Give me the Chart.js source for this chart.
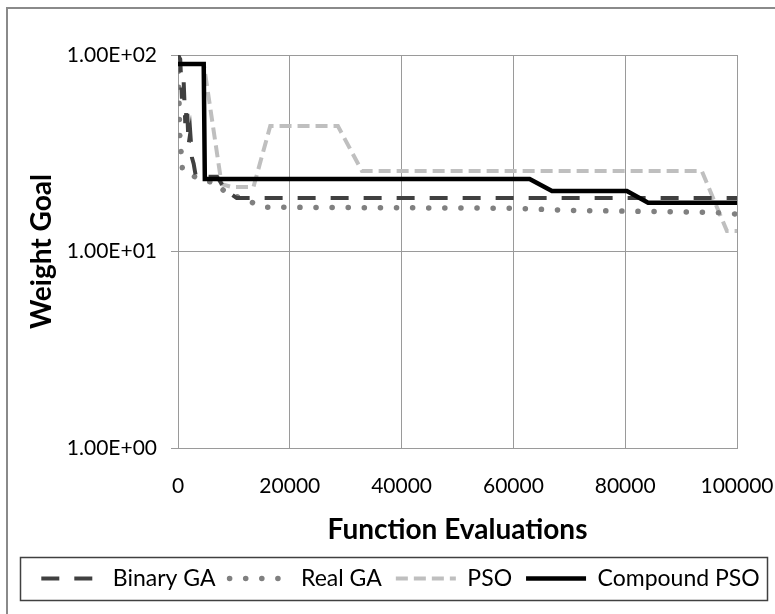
<!DOCTYPE html>
<html>
<head>
<meta charset="utf-8">
<script src="https://cdn.jsdelivr.net/npm/chart.js@4/dist/chart.umd.min.js"></script>
<style>
  html, body { margin: 0; padding: 0; background: #fff; }
  canvas { display: block; }
</style>
</head>
<body>
<canvas id="chart" width="775" height="614"></canvas>
<script>
// values (function evaluations vs weight goal)
var seriesNames = ['Binary GA', 'Real GA', 'PSO', 'Compound PSO']

var binaryEvals = [0, 400, 700, 1000, 1300, 1600, 1900, 2200, 2500, 2800, 3200, 7000, 8500, 10500, 100000]
var binaryGoal  = [100, 95, 60, 75, 45, 55, 35, 40, 30, 28, 24, 24, 20.5, 18.7, 18.7]

var realEvals = [0, 300, 800, 3000, 7000, 8500, 15500, 60000, 70000, 96000, 100000]
var realGoal  = [100, 40, 26, 24, 22, 20, 16.8, 16.6, 16.2, 15.8, 15.5]

var psoEvals = [0, 4600, 7800, 9600, 13500, 16500, 28600, 32900, 93700, 98200, 100000]
var psoGoal  = [90, 90, 22, 21.3, 21.3, 43.5, 43.5, 25.7, 25.7, 12.7, 12.7]

var compoundEvals = [0, 4600, 4800, 62900, 66900, 80300, 84100, 100000]
var compoundGoal  = [90, 90, 23.4, 23.4, 20.3, 20.3, 17.7, 17.7]

var xTickValues = [0, 20000, 40000, 60000, 80000, 100000]
var xTickLabels = ['0', '20000', '40000', '60000', '80000', '100000']
var yTickValues = [1, 10, 100]
var yTickLabels = ['1.00E+00', '1.00E+01', '1.00E+02']

function points(xs, ys) {
    return xs.map(function (x, i) { return { x: x, y: ys[i] } })
}

var gridColor = '#9a9a9a'
var fontName = 'Lato, "Open Sans", sans-serif'

// white page + grey outer frame, and the box round the legend
var framePlugin = {
    id: 'framePlugin',
    beforeDraw: function (chart) {
        var ctx = chart.ctx
        ctx.save()
        ctx.fillStyle = '#fff'
        ctx.fillRect(0, 0, chart.width, chart.height)
        ctx.strokeStyle = '#8a8a8a'
        ctx.lineWidth = 2
        ctx.strokeRect(7, 8, chart.width + 10, chart.height + 10)
        ctx.restore()
        // shift the legend a bit right, like the original
        var lg = chart.legend
        lg.left = 26
        lg.right = 775
        lg.width = lg.right - lg.left
    },
    afterDraw: function (chart) {
        var lg = chart.legend
        var pad = lg.options.labels.padding
        var mid = lg.top + pad + lg.options.labels.font.size / 2
        var ctx = chart.ctx
        ctx.save()
        ctx.strokeStyle = '#404040'
        ctx.lineWidth = 1.5
        ctx.strokeRect(20.5, Math.round(mid - 22) + 0.5, 747, 43)
        ctx.restore()
    }
}

var ctx = document.getElementById('chart')
var myChart = new Chart(ctx, {
    type: 'line',
    data: {
        datasets: [{
            label: seriesNames[0],
            data: points(binaryEvals, binaryGoal),
            borderColor: '#404040',
            backgroundColor: '#404040',
            borderWidth: 4,
            borderDash: [18, 15],
            borderCapStyle: 'butt',
            order: 1
        }, {
            label: seriesNames[1],
            data: points(realEvals, realGoal),
            borderColor: '#808080',
            backgroundColor: '#808080',
            borderWidth: 5.5,
            borderDash: [0.1, 16],
            borderCapStyle: 'round',
            order: 2
        }, {
            label: seriesNames[2],
            data: points(psoEvals, psoGoal),
            borderColor: '#bfbfbf',
            backgroundColor: '#bfbfbf',
            borderWidth: 4,
            borderDash: [12, 6],
            borderCapStyle: 'butt',
            order: 3
        }, {
            label: seriesNames[3],
            data: points(compoundEvals, compoundGoal),
            borderColor: '#000000',
            backgroundColor: '#000000',
            borderWidth: 4.5,
            borderCapStyle: 'butt',
            order: 0
        }]
    },
    options: {
        responsive: false,
        animation: false,
        devicePixelRatio: 1,
        layout: { padding: { left: 0, right: 0, top: 55, bottom: 14 } },
        elements: {
            point: { radius: 0, hoverRadius: 0 },
            line: { tension: 0, fill: false }
        },
        scales: {
            x: {
                type: 'linear',
                min: 0,
                max: 100000,
                afterBuildTicks: function (s) { s.ticks = xTickValues.map(function (v) { return { value: v } }) },
                afterFit: function (s) {
                    s.height = 105
                    s.paddingLeft = 0
                    s.paddingRight = 38
                },
                ticks: {
                    color: '#000',
                    font: { family: fontName, size: 21 },
                    padding: 26,
                    maxRotation: 0,
                    callback: function (v, i) { return xTickLabels[i] }
                },
                grid: { color: gridColor, lineWidth: 1, drawTicks: false },
                border: { color: gridColor, width: 1 },
                title: {
                    display: true,
                    text: 'Function Evaluations',
                    color: '#000',
                    font: { family: fontName, size: 28, weight: 'bold', lineHeight: 1 },
                    padding: { top: 0, bottom: 9 }
                }
            },
            y: {
                type: 'logarithmic',
                min: 1,
                max: 100,
                afterBuildTicks: function (s) { s.ticks = yTickValues.map(function (v) { return { value: v } }) },
                afterFit: function (s) { s.width = 178 },
                ticks: {
                    color: '#000',
                    font: { family: fontName, size: 21 },
                    padding: 14,
                    callback: function (v, i) { return yTickLabels[i] }
                },
                grid: { color: gridColor, lineWidth: 1, tickLength: 7 },
                border: { color: gridColor, width: 1 },
                title: {
                    display: true,
                    text: 'Weight Goal',
                    color: '#000',
                    font: { family: fontName, size: 28, weight: 'bold', lineHeight: 1 },
                    padding: { top: 28, bottom: 0 }
                }
            }
        },
        plugins: {
            tooltip: { enabled: false },
            legend: {
                position: 'bottom',
                align: 'center',
                labels: {
                    color: '#000',
                    font: { family: fontName, size: 23 },
                    usePointStyle: true,
                    pointStyleWidth: 60,
                    padding: 14,
                    generateLabels: function (chart) {
                        return chart.data.datasets.map(function (ds, i) {
                            return {
                                text: ds.label,
                                fillStyle: ds.borderColor,
                                strokeStyle: ds.borderColor,
                                lineWidth: ds.borderWidth,
                                lineDash: ds.borderDash || [],
                                lineCap: ds.borderCapStyle,
                                pointStyle: 'line',
                                fontColor: '#000',
                                hidden: false,
                                datasetIndex: i
                            }
                        })
                    }
                }
            }
        }
    },
    plugins: [framePlugin]
})
</script>
</body>
</html>
